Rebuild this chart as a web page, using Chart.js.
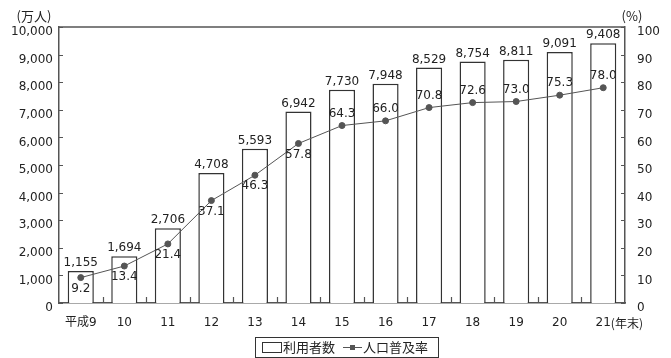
<!DOCTYPE html>
<html>
<head>
<meta charset="utf-8">
<script src="https://cdn.jsdelivr.net/npm/chart.js@4"></script>
<style>
  html, body { margin: 0; padding: 0; background: #fff; }
  #wrap { width: 671px; height: 358px; }
</style>
</head>
<body>
<div id="wrap"><canvas id="c" width="671" height="358"></canvas></div>
<script>
// Internet users (10,000 persons) and population penetration rate (%), year-end
const categories = ['平成9', '10', '11', '12', '13', '14', '15', '16', '17', '18', '19', '20', '21'];
const users = [1155, 1694, 2706, 4708, 5593, 6942, 7730, 7948, 8529, 8754, 8811, 9091, 9408];
const rate = [9.2, 13.4, 21.4, 37.1, 46.3, 57.8, 64.3, 66.0, 70.8, 72.6, 73.0, 75.3, 78.0];
const leftTicks = [0, 1000, 2000, 3000, 4000, 5000, 6000, 7000, 8000, 9000, 10000];
const rightTicks = [0, 10, 20, 30, 40, 50, 60, 70, 80, 90, 100];
const seriesNames = ['利用者数', '人口普及率'];
const leftUnit = '(万人)';
const rightUnit = '(%)';
const lastSuffix = '(年末)';

const FONT = 'DejaVu Sans, "Noto Sans CJK JP", sans-serif';
const JFONT = '"Noto Sans CJK JP", sans-serif';
const INK = '#222';
const AXIS = '#555';
const LABEL_Y = 323;

const fmt = v => v.toLocaleString('en-US');

const decor = {
  id: 'decor',
  afterDatasetsDraw(chart) {
    const ctx = chart.ctx;
    const a = chart.chartArea;
    const x = chart.scales.x, y = chart.scales.y, y2 = chart.scales.y2;
    ctx.save();
    // frame top line
    ctx.strokeStyle = AXIS;
    ctx.lineWidth = 1.5;
    ctx.beginPath();
    ctx.moveTo(a.left, a.top);
    ctx.lineTo(a.right, a.top);
    ctx.stroke();
    // inward tick marks
    ctx.lineWidth = 1.2;
    ctx.beginPath();
    leftTicks.forEach(v => {
      const py = Math.round(y.getPixelForValue(v)) + 0.5;
      ctx.moveTo(a.left, py); ctx.lineTo(a.left + 4, py);
    });
    rightTicks.forEach(v => {
      const py = Math.round(y2.getPixelForValue(v)) + 0.5;
      ctx.moveTo(a.right, py); ctx.lineTo(a.right - 4, py);
    });
    for (let i = 1; i < categories.length; i++) {
      const px = Math.round((x.getPixelForTick(i - 1) + x.getPixelForTick(i)) / 2) + 0.5;
      ctx.moveTo(px, a.bottom); ctx.lineTo(px, a.bottom - 6);
    }
    ctx.stroke();

    // value labels
    ctx.fillStyle = INK;
    ctx.font = '12px ' + FONT;
    ctx.textAlign = 'center';
    ctx.textBaseline = 'middle';
    const barMeta = chart.getDatasetMeta(1);
    barMeta.data.forEach((el, i) => {
      ctx.fillText(fmt(users[i]), el.x, el.y - 8);
    });
    const lineMeta = chart.getDatasetMeta(0);
    lineMeta.data.forEach((el, i) => {
      const below = i < 6;
      ctx.fillText(rate[i].toFixed(1), el.x, below ? el.y + 11 : el.y - 12);
    });

    // unit captions
    ctx.font = '13px ' + JFONT;
    ctx.fillText(leftUnit, 34, 16);
    ctx.fillText(rightUnit, 632, 16);

    // category labels, with the suffix after the last one
    ctx.font = '12px ' + FONT;
    categories.forEach((c, i) => ctx.fillText(c, x.getPixelForTick(i), LABEL_Y));
    const lastX = x.getPixelForTick(categories.length - 1);
    const w = ctx.measureText(categories[categories.length - 1]).width;
    ctx.textAlign = 'left';
    ctx.font = '12px ' + JFONT;
    ctx.fillText(lastSuffix, lastX + w / 2, LABEL_Y);

    // legend
    const lx = 255, ly = 337, lw = 183, lh = 20;
    ctx.strokeStyle = '#333';
    ctx.lineWidth = 1;
    ctx.strokeRect(lx + 0.5, ly + 0.5, lw, lh);
    ctx.strokeRect(262.5, 342.5, 19, 10);
    ctx.font = '13px ' + JFONT;
    ctx.textAlign = 'left';
    ctx.fillText(seriesNames[0], 283, 347.5);
    ctx.strokeStyle = AXIS;
    ctx.beginPath();
    ctx.moveTo(343, 347.5); ctx.lineTo(362, 347.5);
    ctx.stroke();
    ctx.fillStyle = AXIS;
    ctx.fillRect(350, 345, 5, 5);
    ctx.fillStyle = INK;
    ctx.fillText(seriesNames[1], 363, 347.5);
    ctx.restore();
  }
};

new Chart(document.getElementById('c'), {
  type: 'bar',
  data: {
    labels: categories,
    datasets: [
      {
        type: 'line',
        label: seriesNames[1],
        data: rate,
        yAxisID: 'y2',
        borderColor: AXIS,
        borderWidth: 1,
        pointRadius: 3,
        pointBackgroundColor: AXIS,
        pointBorderColor: AXIS,
        tension: 0,
        order: 0
      },
      {
        type: 'bar',
        label: seriesNames[0],
        data: users,
        yAxisID: 'y',
        backgroundColor: '#fff',
        borderColor: '#333',
        borderWidth: 1.5,
        categoryPercentage: 1,
        barPercentage: 0.6,
        order: 1
      }
    ]
  },
  options: {
    responsive: false,
    animation: false,
    devicePixelRatio: 1,
    layout: { padding: { top: 27, left: 0, right: 0, bottom: 0 } },
    plugins: { legend: { display: false }, tooltip: { enabled: false } },
    scales: {
      x: {
        grid: { display: false, drawTicks: false },
        border: { display: true, color: AXIS, width: 1.5 },
        ticks: { display: false },
        afterFit(s) { s.height = 55; }
      },
      y: {
        position: 'left',
        min: 0, max: 10000,
        afterBuildTicks(s) { s.ticks = leftTicks.map(v => ({ value: v })); },
        grid: { display: false, drawTicks: false },
        border: { display: true, color: AXIS, width: 1.5 },
        ticks: { color: INK, font: { family: FONT, size: 12 }, padding: 6, labelOffset: 5, callback: v => fmt(v) },
        afterFit(s) { s.width = 59; }
      },
      y2: {
        position: 'right',
        min: 0, max: 100,
        afterBuildTicks(s) { s.ticks = rightTicks.map(v => ({ value: v })); },
        grid: { display: false, drawTicks: false },
        border: { display: true, color: AXIS, width: 1.5 },
        ticks: { color: INK, font: { family: FONT, size: 12 }, padding: 12, labelOffset: 5 },
        afterFit(s) { s.width = 46; }
      }
    }
  },
  plugins: [decor]
});
</script>
</body>
</html>
